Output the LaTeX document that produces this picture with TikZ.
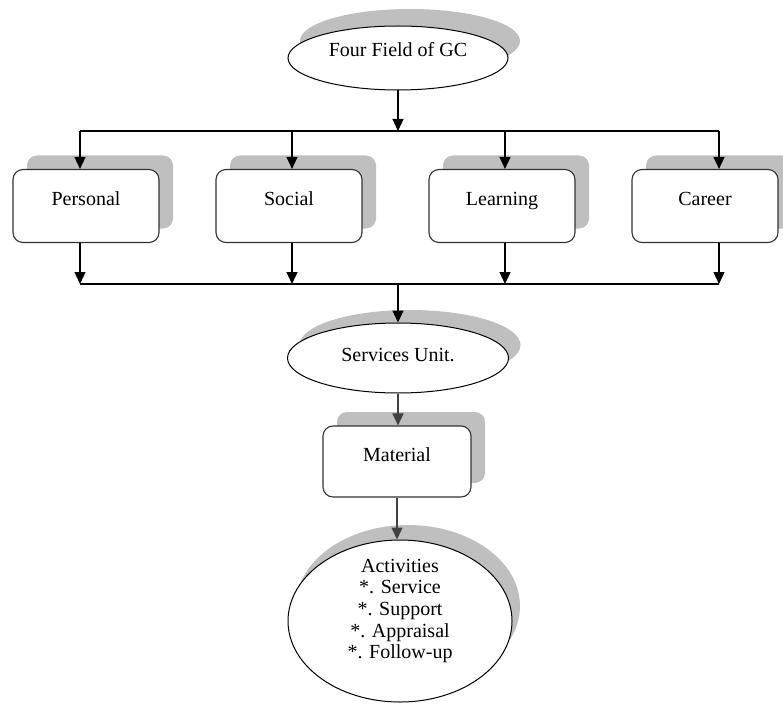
\documentclass[tikz,border=0pt]{standalone}
\usepackage{fontspec}
\setmainfont{Liberation Serif}
\usetikzlibrary{arrows.meta,shapes.geometric,shadows}
\definecolor{shadowgray}{HTML}{BFBFBF}
\begin{document}
\begin{tikzpicture}[x=1pt,y=-1pt,
  font=\fontsize{20}{21.7}\selectfont,
  shd/.style 2 args={drop shadow={shadow xshift=#1pt, shadow yshift=#2pt, fill=shadowgray, opacity=1}},
  box/.style={draw=black!80, line width=1.1pt, fill=white, rounded corners=10pt,
    minimum width=146pt, minimum height=73pt, inner sep=0pt,
    text height=12pt, text depth=13pt, shd={14}{14}},
  ell/.style={ellipse, draw=black, line width=1pt, fill=white, inner sep=0pt},
  arr/.style={-{Triangle[length=12pt,width=11pt]}, line width=1.3pt},
  ln/.style={line width=1.3pt}]
\useasboundingbox (0,0) rectangle (783,703);

% top ellipse
\node[ell, minimum width=220pt, minimum height=64pt, text height=12pt, text depth=14pt, shd={12}{17}] (ff) at (398,58) {Four Field of GC};

% four boxes
\node[box] (personal) at (86,206) {Personal};
\node[box] (social) at (289,206) {Social};
\node[box] (learning) at (502,206) {Learning};
\node[box] (career) at (705,206) {Career};

% services
\node[ell, minimum width=221pt, minimum height=70pt, text height=15pt, text depth=9pt, shd={12}{13}] (su) at (398,358) {Services Unit.};

% material
\node[box, minimum width=148pt, minimum height=71pt] (mat) at (397,461.5) {Material};

% activities
\node[ell, minimum width=224pt, minimum height=162pt, shd={8}{15}] (act) at (400,621) {};
\node[align=center, inner sep=0pt] (acttext) at (400,611) {Activities\\*. Service\\*. Support\\*. Appraisal\\*. Follow-up};

% coordinates
\coordinate (top) at (398,131);
\coordinate (bot) at (398,284);
\coordinate (a1) at (80,131);
\coordinate (a2) at (292,131);
\coordinate (a3) at (505,131);
\coordinate (a4) at (719,131);
\coordinate (b1) at (80,284);
\coordinate (b2) at (292,284);
\coordinate (b3) at (505,284);
\coordinate (b4) at (719,284);

% connectors
\draw[arr] (ff) -- (top);
\draw[ln] (a1) -- (a4);
\draw[arr] (a1) -- (a1 |- personal.north);
\draw[arr] (a2) -- (a2 |- social.north);
\draw[arr] (a3) -- (a3 |- learning.north);
\draw[arr] (a4) -- (a4 |- career.north);
\draw[arr] (b1 |- personal.south) -- (b1);
\draw[arr] (b2 |- social.south) -- (b2);
\draw[arr] (b3 |- learning.south) -- (b3);
\draw[arr] (b4 |- career.south) -- (b4);
\draw[ln] (b1) -- (b4);
\draw[arr] (bot) -- (bot |- su.north);
\draw[arr, black!75] (su.south) -- (su.south |- mat.north);
\draw[arr, black!75] (mat.south) -- (mat.south |- act.north);
\end{tikzpicture}
\end{document}
